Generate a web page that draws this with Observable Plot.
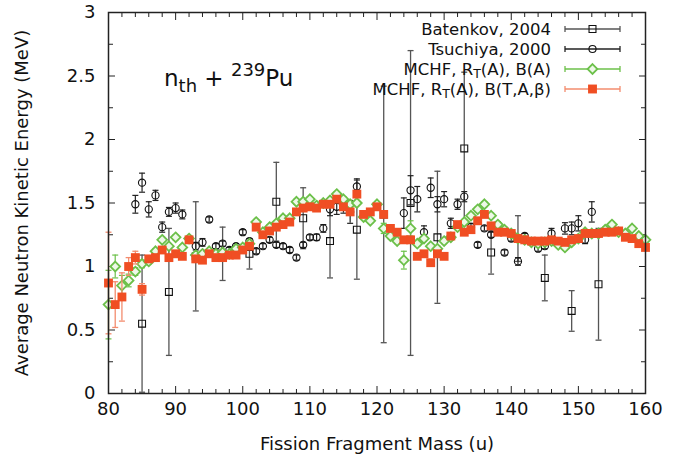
<!DOCTYPE html>
<html>
<head>
<meta charset="utf-8">
<script src="https://cdn.jsdelivr.net/npm/d3@7"></script>
<script src="https://cdn.jsdelivr.net/npm/@observablehq/plot@0.6"></script>
<style>
  html, body { margin: 0; padding: 0; background: #fff; }
  #chart svg { display: block; font-family: "DejaVu Sans", sans-serif; }
</style>
</head>
<body>
<div id="chart"></div>
<script>
// ---------------- data ----------------
const modelMass = [80,81,82,83,84,85,86,87,88,89,90,91,92,93,94,95,96,97,98,99,
  100,101,102,103,104,105,106,107,108,109,110,111,112,113,114,115,116,117,118,119,
  120,121,122,123,124,125,126,127,128,129,130,131,132,133,134,135,136,137,138,139,
  140,141,142,143,144,145,146,147,148,149,150,151,152,153,154,155,156,157,158,159,160];

// MCHF, R_T(A), B(A)  (green diamonds)
const mchfBA = [0.70,1.00,0.85,0.89,0.96,1.02,1.04,1.12,1.21,1.16,
  1.23,1.15,1.22,1.09,1.10,1.12,1.10,1.11,1.10,1.14,
  1.15,1.18,1.35,1.27,1.31,1.34,1.38,1.38,1.51,1.51,
  1.53,1.48,1.50,1.52,1.57,1.53,1.49,1.50,1.39,1.36,
  1.49,1.30,1.24,1.20,1.05,1.30,1.18,1.22,1.16,1.14,
  1.20,1.23,1.31,1.35,1.40,1.45,1.49,1.40,1.33,1.29,
  1.26,1.22,1.21,1.19,1.18,1.19,1.20,1.17,1.15,1.19,
  1.22,1.27,1.26,1.26,1.29,1.33,1.27,1.26,1.30,1.24,1.21];
const mchfBAErr = [0.27,0.09,0.08,0.05,0.03,0.03,0.02,0.02,0.02,0.02,
  0.02,0.02,0.02,0.02,0.02,0.02,0.02,0.02,0.02,0.02,
  0.02,0.02,0.02,0.02,0.02,0.02,0.02,0.02,0.02,0.02,
  0.02,0.02,0.02,0.02,0.02,0.02,0.02,0.02,0.02,0.02,
  0.02,0.04,0.02,0.02,0.07,0.06,0.02,0.02,0.02,0.02,
  0.02,0.02,0.02,0.02,0.02,0.02,0.02,0.02,0.02,0.02,
  0.02,0.02,0.02,0.02,0.02,0.02,0.02,0.02,0.02,0.02,
  0.02,0.02,0.02,0.02,0.02,0.02,0.02,0.02,0.02,0.02,0.02];

// MCHF, R_T(A), B(T,A,beta)  (red squares)
const mchfBTAb = [0.87,0.70,0.76,1.00,1.07,0.82,1.06,1.07,1.13,1.07,
  1.10,1.08,1.21,1.06,1.05,1.10,1.07,1.07,1.09,1.09,
  1.13,1.16,1.31,1.25,1.28,1.31,1.33,1.35,1.43,1.46,
  1.47,1.46,1.49,1.49,1.53,1.47,1.43,1.57,1.41,1.43,
  1.47,1.41,1.30,1.27,1.21,1.21,1.08,1.10,1.03,1.10,
  1.08,1.24,1.33,1.27,1.29,1.36,1.41,1.32,1.27,1.27,
  1.26,1.22,1.21,1.20,1.20,1.20,1.21,1.20,1.19,1.21,
  1.22,1.26,1.26,1.26,1.27,1.27,1.28,1.23,1.22,1.18,1.15];
const mchfBTAbErr = [0.40,0.18,0.19,0.07,0.05,0.045,0.02,0.02,0.02,0.02,
  0.02,0.02,0.02,0.02,0.02,0.02,0.02,0.02,0.02,0.02,
  0.02,0.02,0.02,0.02,0.02,0.02,0.02,0.02,0.02,0.02,
  0.02,0.02,0.02,0.02,0.02,0.02,0.02,0.02,0.02,0.02,
  0.02,0.02,0.02,0.02,0.02,0.02,0.02,0.02,0.02,0.02,
  0.02,0.02,0.02,0.02,0.02,0.02,0.02,0.02,0.02,0.02,
  0.02,0.02,0.02,0.02,0.02,0.02,0.02,0.02,0.02,0.02,
  0.02,0.02,0.02,0.02,0.02,0.02,0.02,0.02,0.02,0.02,0.02];

// Tsuchiya, 2000 (open circles)
const tsuMass = [84,85,86,87,88,89,90,91,
  93,94,95,96,97,98,99,100,101,102,
  103,104,105,106,107,108,109,110,111,112,
  113,114,115,116,117,
  124,125,126,127,128,129,130,131,132,133,
  134,135,136,137,138,139,140,141,142,
  144,145,146,
  148,149,150,151,152];
const tsuVal = [1.49,1.66,1.45,1.56,1.31,1.43,1.46,1.41,
  1.16,1.19,1.37,1.16,1.18,1.13,1.16,1.27,1.20,1.12,
  1.16,1.21,1.17,1.16,1.13,1.07,1.17,1.23,1.23,1.30,
  1.45,1.47,1.48,1.43,1.63,
  1.42,1.60,1.53,1.27,1.62,1.49,1.53,1.34,1.49,1.55,
  1.31,1.17,1.30,1.25,1.33,1.11,1.22,1.04,1.24,
  1.14,1.16,1.26,
  1.30,1.30,1.34,1.21,1.43];
const tsuErr = [0.07,0.075,0.06,0.04,0.04,0.035,0.04,0.035,
  0.03,0.03,0.02,0.02,0.02,0.02,0.02,0.02,0.02,0.02,
  0.02,0.02,0.02,0.02,0.02,0.02,0.02,0.02,0.025,0.03,
  0.05,0.06,0.06,0.09,0.06,
  0.12,0.115,0.10,0.05,0.077,0.06,0.06,0.04,0.04,0.04,
  0.03,0.02,0.02,0.02,0.02,0.02,0.02,0.03,0.02,
  0.02,0.02,0.04,
  0.045,0.05,0.06,0.03,0.08];

// Batenkov, 2004 (open squares)
const batMass = [85,89,93,97,101,105,109,113,117,121,125,129,133,137,141,145,149,153];
const batVal  = [0.55,0.80,1.08,1.10,1.10,1.51,1.38,1.20,1.29,1.41,1.50,1.23,1.93,1.11,1.22,0.91,0.65,0.86];
const batErr  = [0.54,0.50,0.43,0.21,0.12,0.31,0.24,0.29,0.39,1.01,1.20,0.52,0.60,0.17,0.18,0.18,0.16,0.44];

// ticks
const xMajor = [80,90,100,110,120,130,140,150,160];
const xMinor = [82,84,86,88,92,94,96,98,102,104,106,108,112,114,116,118,122,124,126,128,
  132,134,136,138,142,144,146,148,152,154,156,158];
const yMajor = [0,0.5,1,1.5,2,2.5,3];
const yMinor = [0.25,0.75,1.25,1.75,2.25,2.75];

const seriesNames = ["Batenkov, 2004", "Tsuchiya, 2000", "MCHF, R_T(A), B(A)", "MCHF, R_T(A), B(T,A,\u03b2)"];

// ---------------- tables ----------------
const toRows = (ms, vs, es) => ms.map((m, i) => ({m, v: vs[i], e: es[i]}));
const batRows = toRows(batMass, batVal, batErr);
const tsuRows = toRows(tsuMass, tsuVal, tsuErr);
const baRows = toRows(modelMass, mchfBA, mchfBAErr);
const btRows = toRows(modelMass, mchfBTAb, mchfBTAbErr);

// horizontal cap symbol for error bars
const capSymbol = {
  draw(ctx, size) {
    const w = Math.sqrt(size / Math.PI);
    ctx.moveTo(-w, 0); ctx.lineTo(w, 0);
  }
};

const C = {
  bat: "#111", batBar: "#555",
  tsu: "#111", tsuBar: "#222",
  green: "#6cc04a", greenFill: "#eef8e8",
  red: "#f04e23", redBar: "#f38c6e"
};

function errorBars(rows, color, width) {
  return [
    Plot.ruleX(rows, {x: "m", y1: d => d.v - d.e, y2: d => d.v + d.e, stroke: color, strokeWidth: width}),
    Plot.dot(rows, {x: "m", y: d => d.v + d.e, symbol: capSymbol, r: 3, stroke: color, strokeWidth: width, fill: "none"}),
    Plot.dot(rows, {x: "m", y: d => d.v - d.e, symbol: capSymbol, r: 3, stroke: color, strokeWidth: width, fill: "none"})
  ];
}

const FS = 18;
const chart = Plot.plot({
  width: 679,
  height: 459,
  marginLeft: 108,
  marginRight: 34,
  marginTop: 12,
  marginBottom: 66,
  style: {background: "#fff", color: "#111", fontFamily: "DejaVu Sans, sans-serif", fontSize: FS + "px"},
  x: {domain: [80, 160], label: null},
  y: {domain: [0, 3], label: null},
  marks: [
    // inward ticks on all four sides
    Plot.axisX({anchor: "bottom", ticks: xMajor, tickSize: -7, tickFormat: () => "", label: null, stroke: "#222"}),
    Plot.axisX({anchor: "bottom", ticks: xMinor, tickSize: -4, tickFormat: () => "", label: null, stroke: "#222"}),
    Plot.axisX({anchor: "top", ticks: xMajor, tickSize: -7, tickFormat: () => "", label: null, stroke: "#222"}),
    Plot.axisX({anchor: "top", ticks: xMinor, tickSize: -4, tickFormat: () => "", label: null, stroke: "#222"}),
    Plot.axisY({anchor: "left", ticks: yMajor, tickSize: -7, tickFormat: () => "", label: null, stroke: "#222"}),
    Plot.axisY({anchor: "left", ticks: yMinor, tickSize: -5, tickFormat: () => "", label: null, stroke: "#222"}),
    Plot.axisY({anchor: "right", ticks: yMajor, tickSize: -7, tickFormat: () => "", label: null, stroke: "#222"}),
    Plot.axisY({anchor: "right", ticks: yMinor, tickSize: -5, tickFormat: () => "", label: null, stroke: "#222"}),
    // tick labels + titles
    Plot.axisX({anchor: "bottom", ticks: xMajor, tickSize: 0, tickPadding: 9, fontSize: FS,
      tickFormat: d => String(d), label: "Fission Fragment Mass (u)", labelAnchor: "center",
      labelOffset: 56, labelArrow: "none"}),
    Plot.axisY({anchor: "left", ticks: yMajor, tickSize: 0, tickPadding: 13, fontSize: FS,
      tickFormat: d => String(d), label: "Average Neutron Kinetic Energy (MeV)", labelAnchor: "center",
      labelOffset: 93, labelArrow: "none"}),
    // Batenkov
    ...errorBars(batRows, C.batBar, 1.3),
    Plot.dot(batRows, {x: "m", y: "v", symbol: "square", r: 3.9, stroke: C.bat, strokeWidth: 1.1, fill: "none"}),
    // Tsuchiya
    ...errorBars(tsuRows, C.tsuBar, 1.2),
    Plot.dot(tsuRows, {x: "m", y: "v", symbol: "circle", r: 3.6, stroke: C.tsu, strokeWidth: 1.1, fill: "none"}),
    // MCHF B(A)
    ...errorBars(baRows, C.green, 1.2),
    Plot.dot(baRows, {x: "m", y: "v", symbol: "diamond2", r: 4.4, stroke: C.green, strokeWidth: 1.8, fill: C.greenFill}),
    // MCHF B(T,A,beta)
    ...errorBars(btRows, C.redBar, 1.3),
    Plot.dot(btRows, {x: "m", y: "v", symbol: "square", r: 5.0, fill: C.red, stroke: "none"}),
    Plot.frame({stroke: "#222", strokeWidth: 1.5})
  ]
});
document.getElementById("chart").appendChild(chart);

// ---------------- legend & annotation ----------------
const svg = d3.select(chart);
const LFS = 16.5;
const leg = svg.append("g").attr("font-family", "DejaVu Sans, sans-serif").attr("font-size", LFS);
const legRows = [
  {name: seriesNames[0], color: C.bat, bar: C.batBar, sym: d3.symbolSquare, size: 48, fill: "none", sw: 1.1},
  {name: seriesNames[1], color: C.tsu, bar: C.tsuBar, sym: d3.symbolCircle, size: 40, fill: "none", sw: 1.1},
  {name: seriesNames[2], color: C.green, bar: C.green, sym: d3.symbolDiamond2, size: 61, fill: C.greenFill, sw: 1.8},
  {name: seriesNames[3], color: "none", bar: C.redBar, sym: d3.symbolSquare, size: 79, fill: C.red, sw: 0}
];
const textRight = 551, lineL = 565, lineR = 620, markX = 592.5;
legRows.forEach((r, i) => {
  const cy = 29 + i * 20;
  const t = leg.append("text").attr("x", textRight).attr("y", cy).attr("dy", "0.36em")
    .attr("text-anchor", "end").attr("fill", "#111");
  const parts = r.name.split("R_T");
  if (parts.length === 1) {
    t.text(r.name);
  } else {
    t.append("tspan").text(parts[0] + "R");
    t.append("tspan").attr("dy", 3).attr("font-size", 12.5).text("T");
    t.append("tspan").attr("dy", -3).text(parts[1]);
  }
  leg.append("line").attr("x1", lineL).attr("x2", lineR).attr("y1", cy).attr("y2", cy)
    .attr("stroke", r.bar).attr("stroke-width", 1.3);
  [lineL, lineR].forEach(x => leg.append("line").attr("x1", x).attr("x2", x)
    .attr("y1", cy - 3).attr("y2", cy + 3).attr("stroke", r.bar).attr("stroke-width", 1.3));
  leg.append("path").attr("d", d3.symbol().type(r.sym).size(r.size)())
    .attr("transform", `translate(${markX},${cy})`)
    .attr("fill", r.fill).attr("stroke", r.color).attr("stroke-width", r.sw);
});

const ann = svg.append("text").attr("x", 164).attr("y", 86).attr("text-anchor", "start")
  .attr("font-family", "DejaVu Sans, sans-serif").attr("font-size", 23).attr("fill", "#111");
ann.append("tspan").text("n");
ann.append("tspan").attr("dy", 6).attr("font-size", 18).text("th");
ann.append("tspan").attr("dy", -6).text(" + ");
ann.append("tspan").attr("dy", -10).attr("font-size", 18).text("239");
ann.append("tspan").attr("dy", 10).text("Pu");
</script>
</body>
</html>
